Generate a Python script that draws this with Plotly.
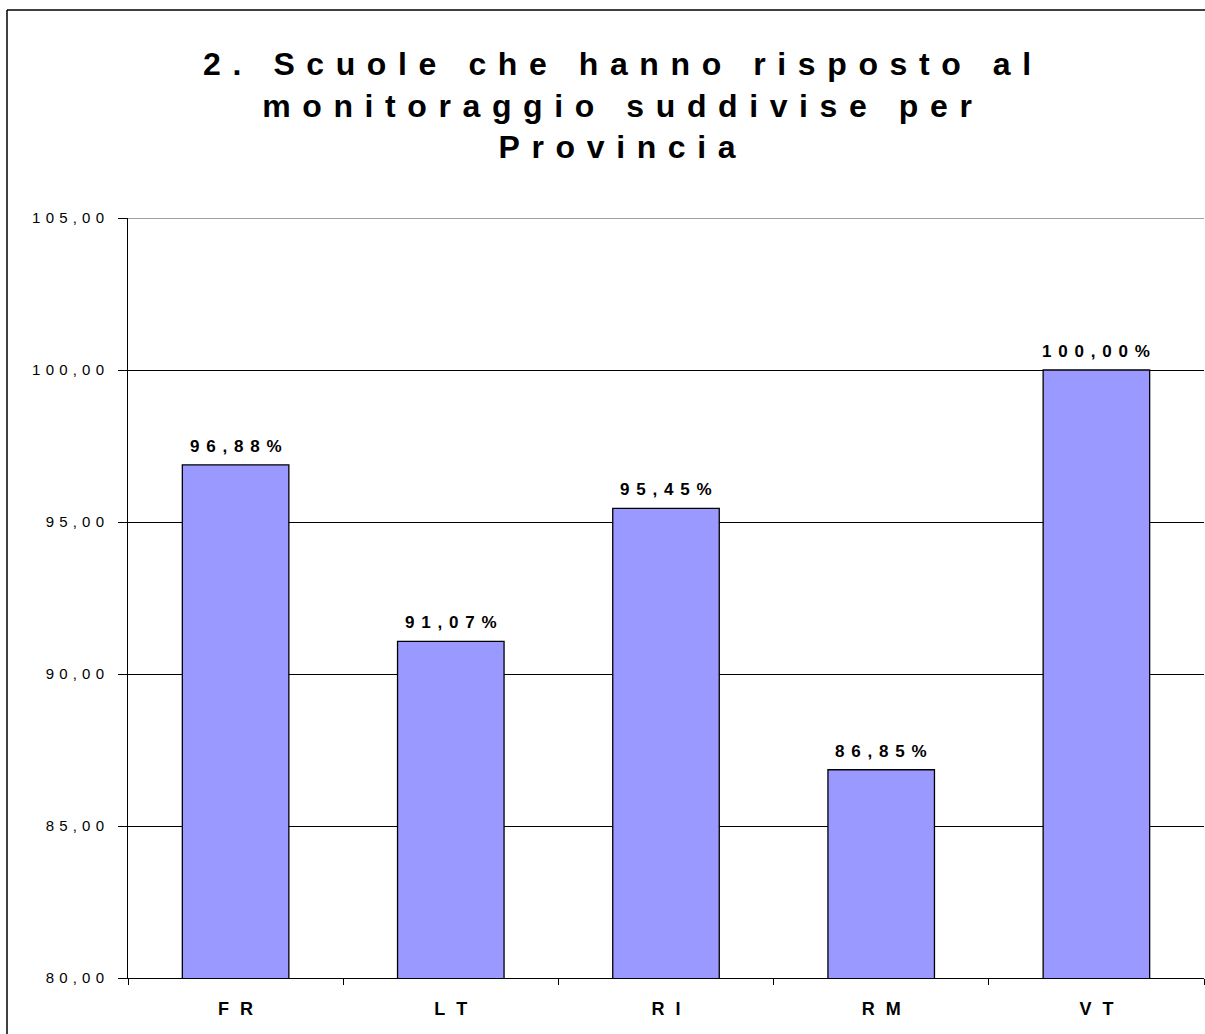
import plotly.graph_objects as go

categories = ["FR", "LT", "RI", "RM", "VT"]
values = [96.88, 91.07, 95.45, 86.85, 100.00]
labels = ["96,88%", "91,07%", "95,45%", "86,85%", "100,00%"]
y_ticks = [80, 85, 90, 95, 100, 105]
y_tick_text = ["80,00", "85,00", "90,00", "95,00", "100,00", "105,00"]
title_lines = ["2. Scuole che hanno risposto al", "monitoraggio suddivise per", "Provincia"]

W, H = 1205, 1034
L, R, T, B = 128, 1, 218, 56
pw, ph = W - L - R, H - T - B
FONT = "Liberation Sans, Arial, sans-serif"


def spaced(s, ls, bold=False):
    # letter spacing on every character except the last (no trailing gap)
    inner = '<span style="letter-spacing:%.1fpx">%s</span>%s' % (ls, s[:-1], s[-1])
    return "<b>" + inner + "</b>" if bold else inner


def px_x(px):
    return (px - L) / pw


def px_y(py):
    return (H - B - py) / ph


fig = go.Figure()
fig.add_trace(go.Bar(
    x=categories, y=values,
    marker=dict(color="#9999FF", line=dict(color="#000000", width=1.3)),
    width=0.495,
    hoverinfo="skip",
))

for c, v, t in zip(categories, values, labels):
    fig.add_annotation(x=c, y=v, text=spaced(t, 6.8, bold=True), showarrow=False,
                       xref="x", yref="y", yanchor="bottom", yshift=7,
                       font=dict(family=FONT, size=17, color="#000"))

fig.add_annotation(
    x=px_x(617), y=px_y(105), xref="paper", yref="paper",
    text="<br>".join(spaced(s, 11.6, bold=True) for s in title_lines),
    showarrow=False, xanchor="center", yanchor="middle",
    font=dict(family=FONT, size=32, color="#000"),
)

# top gridline (gray) at the axis maximum
fig.add_shape(type="line", xref="paper", yref="y",
              x0=0, x1=1, y0=y_ticks[-1], y1=y_ticks[-1],
              line=dict(color="#808080", width=1.5))

# figure frame (left and top border)
fig.add_shape(type="line", xref="paper", yref="paper",
              x0=px_x(7), x1=px_x(7), y0=px_y(10), y1=px_y(1040),
              line=dict(color="#000", width=1.5))
fig.add_shape(type="line", xref="paper", yref="paper",
              x0=px_x(7), x1=px_x(1210), y0=px_y(10), y1=px_y(10),
              line=dict(color="#000", width=1.5))

fig.update_layout(
    width=W, height=H,
    margin=dict(l=L, r=R, t=T, b=B, pad=0),
    paper_bgcolor="white", plot_bgcolor="white",
    showlegend=False,
    separators=",.",
    bargap=0.5,
)
fig.update_xaxes(
    type="category",
    tickvals=categories, ticktext=[spaced(c, 11, bold=True) for c in categories],
    showline=True, linecolor="#000", linewidth=1,
    ticks="outside", tickson="boundaries", ticklen=6, tickcolor="#000", tickwidth=1,
    showgrid=False,
    tickfont=dict(family=FONT, size=18, color="#000"),
    ticklabelstandoff=14,
)
fig.update_yaxes(
    range=[80, 105],
    tickvals=y_ticks, ticktext=[spaced(t, 5.2) for t in y_tick_text],
    showline=True, linecolor="#000", linewidth=1,
    ticks="outside", ticklen=9, tickcolor="#000", tickwidth=1,
    showgrid=True, gridcolor="#000", gridwidth=1,
    zeroline=False,
    tickfont=dict(family=FONT, size=15, color="#000"),
    ticklabelstandoff=11,
)

fig.write_html(
    "out.html",
    config={"displayModeBar": False},
    post_script="document.body.style.margin='0';document.body.style.overflow='hidden';",
)
